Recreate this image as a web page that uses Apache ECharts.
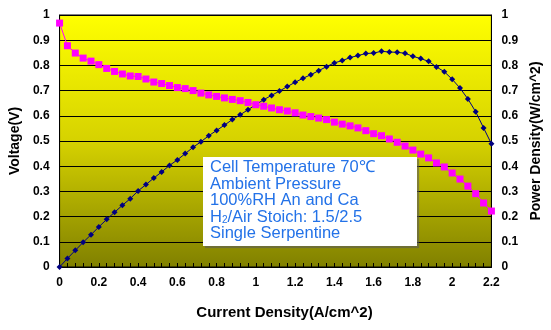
<!DOCTYPE html>
<html>
<head>
<meta charset="utf-8">
<title>Polarization and power density curves</title>
<script src="https://cdn.jsdelivr.net/npm/echarts@6/dist/echarts.min.js"></script>
<style>
  html, body { margin: 0; padding: 0; background: #ffffff; }
  #chart { width: 551px; height: 330px; }
</style>
</head>
<body>
<div id="chart"></div>
<script>
// Current density samples (A/cm^2)
var currentDensity = [
  0.00, 0.04, 0.08, 0.12, 0.16, 0.20, 0.24, 0.28, 0.32, 0.36,
  0.40, 0.44, 0.48, 0.52, 0.56, 0.60, 0.64, 0.68, 0.72, 0.76,
  0.80, 0.84, 0.88, 0.92, 0.96, 1.00, 1.04, 1.08, 1.12, 1.16,
  1.20, 1.24, 1.28, 1.32, 1.36, 1.40, 1.44, 1.48, 1.52, 1.56,
  1.60, 1.64, 1.68, 1.72, 1.76, 1.80, 1.84, 1.88, 1.92, 1.96,
  2.00, 2.04, 2.08, 2.12, 2.16, 2.20
];

// Cell voltage (V)
var voltage = [
  0.968, 0.878, 0.849, 0.829, 0.817, 0.803, 0.788, 0.776, 0.766, 0.758,
  0.756, 0.746, 0.734, 0.728, 0.720, 0.712, 0.708, 0.700, 0.690, 0.683,
  0.677, 0.671, 0.665, 0.660, 0.653, 0.644, 0.638, 0.631, 0.624, 0.619,
  0.612, 0.603, 0.597, 0.591, 0.585, 0.575, 0.567, 0.560, 0.552, 0.541,
  0.529, 0.521, 0.508, 0.495, 0.480, 0.464, 0.448, 0.433, 0.413, 0.397,
  0.373, 0.349, 0.321, 0.291, 0.254, 0.222
];

// Power density (W/cm^2)
var powerDensity = [
  0.000, 0.034, 0.066, 0.098, 0.128, 0.159, 0.189, 0.217, 0.245, 0.271,
  0.302, 0.327, 0.353, 0.377, 0.403, 0.425, 0.450, 0.475, 0.497, 0.521,
  0.542, 0.563, 0.585, 0.604, 0.624, 0.644, 0.664, 0.681, 0.698, 0.716,
  0.733, 0.749, 0.763, 0.779, 0.795, 0.810, 0.819, 0.831, 0.839, 0.847,
  0.849, 0.856, 0.853, 0.852, 0.848, 0.836, 0.827, 0.816, 0.794, 0.775,
  0.745, 0.710, 0.667, 0.616, 0.552, 0.489
];

// Test conditions shown in the note box
var noteLines = [
  'Cell Temperature 70\u2103',
  'Ambient Pressure',
  '100%RH An and Ca',
  'H{sub|2}/Air Stoich: 1.5/2.5',
  'Single Serpentine'
];

var FONT = '"Liberation Sans", Arial, sans-serif';
var NOTE_BLUE = '#2372E8';

function pairs(xs, ys) {
  return xs.map(function (x, i) { return [x, ys[i]]; });
}

var chart = echarts.init(document.getElementById('chart'), null, { renderer: 'canvas' });

var labelStyle = {
  color: '#000000',
  fontFamily: FONT,
  fontWeight: 'bold',
  fontSize: 12
};

var nameStyle = {
  color: '#000000',
  fontFamily: FONT,
  fontWeight: 'bold',
  fontSize: 14
};

function valueAxis(position) {
  return {
    type: 'value',
    position: position,
    min: 0,
    max: 1,
    interval: 0.1,
    axisLine: { show: true, lineStyle: { color: '#000000', width: 1 } },
    axisTick: { show: false },
    axisLabel: Object.assign({ margin: 10 }, labelStyle),
    splitLine: { show: position === 'left', lineStyle: { color: '#000000', width: 1 } },
    nameLocation: 'middle',
    nameGap: 36,
    nameTextStyle: nameStyle
  };
}

var leftAxis = valueAxis('left');
leftAxis.name = 'Voltage(V)';
var rightAxis = valueAxis('right');
rightAxis.name = 'Power Density(W/cm^2)';
rightAxis.nameGap = 35;

chart.setOption({
  animation: false,
  backgroundColor: '#ffffff',
  grid: {
    left: 55,
    right: 53,
    top: 15,
    bottom: 63,
    show: true,
    borderColor: '#000000',
    borderWidth: 1,
    backgroundColor: new echarts.graphic.LinearGradient(0, 0, 0, 1, [
      { offset: 0, color: '#FFFF00' },
      { offset: 0.5, color: '#D6D200' },
      { offset: 1, color: '#808000' }
    ])
  },
  xAxis: {
    type: 'value',
    min: 0,
    max: 2.2,
    interval: 0.2,
    name: 'Current Density(A/cm^2)',
    nameLocation: 'middle',
    nameGap: 38,
    nameTextStyle: Object.assign({}, nameStyle, { fontSize: 15, padding: [0, 0, 0, 18] }),
    axisLine: { show: true, lineStyle: { color: '#000000', width: 1 } },
    axisTick: { show: true, inside: true, length: 4, lineStyle: { color: '#000000' } },
    minorTick: { show: true, splitNumber: 5, length: 4, lineStyle: { color: '#000000' } },
    axisLabel: Object.assign({ margin: 10 }, labelStyle),
    splitLine: { show: false }
  },
  yAxis: [leftAxis, rightAxis],
  series: [
    {
      name: 'Power Density',
      type: 'line',
      yAxisIndex: 1,
      data: pairs(currentDensity, powerDensity),
      symbol: 'diamond',
      symbolSize: 6,
      showAllSymbol: true,
      lineStyle: { color: '#000080', width: 1 },
      itemStyle: { color: '#000080' },
      z: 2
    },
    {
      name: 'Voltage',
      type: 'line',
      yAxisIndex: 0,
      data: pairs(currentDensity, voltage),
      symbol: 'rect',
      symbolSize: 7,
      showAllSymbol: true,
      lineStyle: { color: '#FF00FF', width: 1 },
      itemStyle: { color: '#FF00FF' },
      z: 3
    }
  ],
  graphic: [
    {
      type: 'rect',
      left: 203,
      top: 157,
      z: 100,
      shape: { x: 0, y: 0, width: 214, height: 89 },
      style: {
        fill: '#ffffff',
        shadowColor: 'rgba(90,90,90,0.6)',
        shadowOffsetX: 2,
        shadowOffsetY: 2,
        shadowBlur: 1
      }
    },
    {
      type: 'text',
      left: 210,
      top: 159,
      z: 101,
      style: {
        text: noteLines.join('\n'),
        fill: NOTE_BLUE,
        fontFamily: FONT,
        fontSize: 16.5,
        lineHeight: 16.5,
        rich: {
          sub: {
            fontFamily: FONT,
            fontSize: 10,
            fill: NOTE_BLUE,
            verticalAlign: 'bottom',
            padding: [7, 0, 0, 0],
            lineHeight: 16.5
          }
        }
      }
    }
  ]
});
</script>
</body>
</html>
